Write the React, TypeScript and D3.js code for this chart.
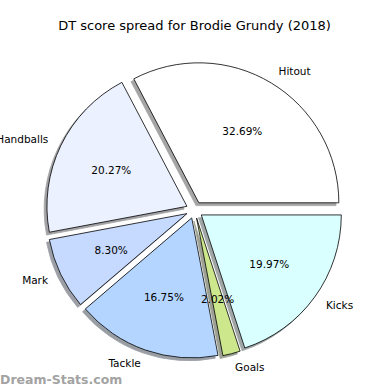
import * as d3 from 'd3';
import React, { FC } from 'react';

const categories = ['Hitout', 'Handballs', 'Mark', 'Tackle', 'Goals', 'Kicks'];
const shares = [32.69, 20.27, 8.3, 16.75, 2.02, 19.97];
const colors = ['#ffffff', '#ebf1ff', '#c6d9ff', '#b4d5ff', '#cde88c', '#d9ffff'];

const width = 390;
const height = 390;
const cx = 194.5;
const cy = 210;
const radius = 140;
const explode = 0.06;

const App: FC = (): JSX.Element => {
  // matplotlib-style: angles counterclockwise from 3 o'clock
  const pie = d3
    .pie<number>()
    .sort(null)
    .value((d) => d)
    .startAngle(0)
    .endAngle(2 * Math.PI);
  const slices = pie(shares);

  const arc = d3.arc<{ t1: number; t2: number }>()
    .innerRadius(0)
    .outerRadius(radius)
    .startAngle((d) => Math.PI / 2 - d.t2)
    .endAngle((d) => Math.PI / 2 - d.t1);

  const wedges = slices.map((s, i) => {
    const mid = (s.startAngle + s.endAngle) / 2;
    const ox = cx + explode * radius * Math.cos(mid);
    const oy = cy - explode * radius * Math.sin(mid);
    return {
      i,
      mid,
      ox,
      oy,
      d: arc({ t1: s.startAngle, t2: s.endAngle }) as string
    };
  });

  const shadowOff = 0.02 * radius;

  return (
    <svg
      width={width}
      height={height}
      style={{ position: 'absolute', left: 0, top: 0, background: '#fff' }}
      fontFamily="DejaVu Sans, sans-serif"
    >
      <text x={cx} y={30} textAnchor="middle" fontSize={13} fill="#000">
        DT score spread for Brodie Grundy (2018)
      </text>

      {wedges.map((w) => {
        const c = d3.rgb(colors[w.i]);
        const shade = d3.rgb(c.r * 0.3, c.g * 0.3, c.b * 0.3).toString();
        return (
          <path
            key={`s${w.i}`}
            d={w.d}
            transform={`translate(${w.ox - shadowOff}, ${w.oy + shadowOff})`}
            fill={shade}
            stroke={shade}
            strokeWidth={0.8}
            opacity={0.5}
          />
        );
      })}

      {wedges.map((w) => (
        <path
          key={`w${w.i}`}
          d={w.d}
          transform={`translate(${w.ox}, ${w.oy})`}
          fill={colors[w.i]}
          stroke="#000"
          strokeWidth={0.8}
        />
      ))}

      {wedges.map((w) => {
        const lx = w.ox + 1.1 * radius * Math.cos(w.mid);
        const ly = w.oy - 1.1 * radius * Math.sin(w.mid);
        return (
          <text
            key={`l${w.i}`}
            x={lx}
            y={ly}
            textAnchor={Math.cos(w.mid) > 0 ? 'start' : 'end'}
            dominantBaseline="central"
            fontSize={10.5}
            fill="#000"
          >
            {categories[w.i]}
          </text>
        );
      })}

      {wedges.map((w) => {
        const px = w.ox + 0.6 * radius * Math.cos(w.mid);
        const py = w.oy - 0.6 * radius * Math.sin(w.mid);
        return (
          <text
            key={`p${w.i}`}
            x={px}
            y={py}
            textAnchor="middle"
            dominantBaseline="central"
            fontSize={10.5}
            fill="#000"
          >
            {`${shares[w.i].toFixed(2)}%`}
          </text>
        );
      })}

      <text x={0} y={384} fontSize={12.5} fontWeight={600} fill="#a3a3a3">
        Dream-Stats.com
      </text>
    </svg>
  );
};

export default App;
